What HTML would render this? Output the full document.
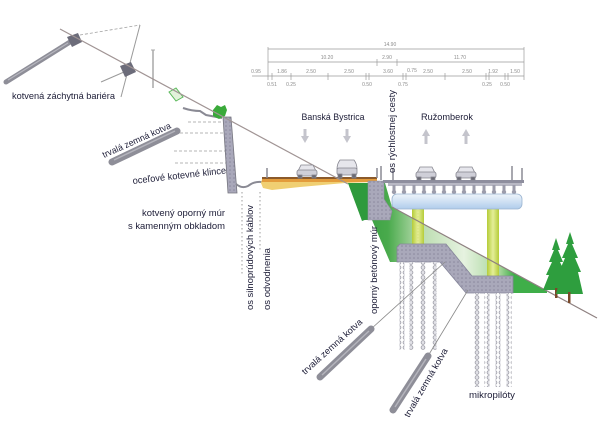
<!DOCTYPE html>
<html><head><meta charset="utf-8">
<style>
html,body{margin:0;padding:0;background:#fff;}
svg{display:block;}
text{font-family:"Liberation Sans",sans-serif;}
</style></head><body>
<svg width="600" height="431" viewBox="0 0 600 431" xmlns="http://www.w3.org/2000/svg">
<defs>
 <pattern id="dots" width="4" height="4" patternUnits="userSpaceOnUse">
   <rect width="4" height="4" fill="#a9a8ba"/>
   <circle cx="2" cy="2" r="0.8" fill="#8a889c"/>
 </pattern>
 <pattern id="chain" width="6" height="5" patternUnits="userSpaceOnUse">
   <rect width="6" height="5" fill="#fff"/>
   <circle cx="3" cy="2.5" r="1.9" fill="#e2e2e8" stroke="#9c9ca6" stroke-width="0.8"/>
 </pattern>
 <linearGradient id="gfill" x1="348" y1="0" x2="548" y2="0" gradientUnits="userSpaceOnUse">
   <stop offset="0" stop-color="#2f9a3a"/>
   <stop offset="0.2" stop-color="#49aa4c"/>
   <stop offset="0.36" stop-color="#b9dcae"/>
   <stop offset="0.58" stop-color="#e6f2e0"/>
   <stop offset="0.76" stop-color="#a6d69a"/>
   <stop offset="0.83" stop-color="#3fae49"/>
   <stop offset="1" stop-color="#3fae49"/>
 </linearGradient>
 <linearGradient id="blue" x1="0" y1="0" x2="0" y2="1">
   <stop offset="0" stop-color="#eef4fb"/><stop offset="1" stop-color="#b0cceb"/>
 </linearGradient>
 <linearGradient id="pier" x1="0" y1="0" x2="1" y2="0">
   <stop offset="0" stop-color="#b5cc38"/><stop offset="0.5" stop-color="#e4ee98"/><stop offset="1" stop-color="#b5cc38"/>
 </linearGradient>
</defs>

<!-- dimension lines -->
<g stroke="#9a9a9a" stroke-width="0.7" fill="none">
  <line x1="268" y1="49" x2="524" y2="49"/>
  <line x1="268" y1="62" x2="524" y2="62"/>
  <line x1="252" y1="76" x2="524" y2="76"/>
  <line x1="268" y1="47" x2="268" y2="80"/>
  <line x1="524" y1="47" x2="524" y2="80"/>
  <line x1="377" y1="59" x2="377" y2="66"/>
  <line x1="397" y1="59" x2="397" y2="66"/>
  <line x1="272" y1="73" x2="272" y2="80"/>
  <line x1="291" y1="73" x2="291" y2="80"/>
  <line x1="328" y1="73" x2="328" y2="80"/>
  <line x1="366" y1="73" x2="366" y2="80"/>
  <line x1="369" y1="73" x2="369" y2="80"/>
  <line x1="403" y1="73" x2="403" y2="80"/>
  <line x1="406" y1="73" x2="406" y2="80"/>
  <line x1="445" y1="73" x2="445" y2="80"/>
  <line x1="486" y1="73" x2="486" y2="80"/>
  <line x1="489" y1="73" x2="489" y2="80"/>
  <line x1="505" y1="73" x2="505" y2="80"/>
  <line x1="508" y1="73" x2="508" y2="80"/>
</g>
<g fill="#8c8c8c" font-size="5" text-anchor="middle">
  <text x="390" y="46">14.90</text>
  <text x="327" y="59">10.20</text>
  <text x="387" y="59">2.90</text>
  <text x="460" y="59">11.70</text>
  <text x="256" y="73">0.95</text>
  <text x="282" y="73">1.86</text>
  <text x="311" y="73">2.50</text>
  <text x="349" y="73">2.50</text>
  <text x="388" y="73">3.60</text>
  <text x="412" y="72">0.75</text>
  <text x="428" y="73">2.50</text>
  <text x="467" y="73">2.50</text>
  <text x="493" y="73">1.92</text>
  <text x="515" y="73">1.50</text>
  <text x="272" y="86">0.51</text>
  <text x="291" y="86">0.25</text>
  <text x="367" y="86">0.50</text>
  <text x="403" y="86">0.75</text>
  <text x="487" y="86">0.25</text>
  <text x="505" y="86">0.50</text>
</g>

<!-- top-left barrier -->
<line x1="6" y1="82" x2="70" y2="42" stroke="#8e8e98" stroke-width="5" stroke-linecap="round"/>
<line x1="8" y1="80" x2="68" y2="43" stroke="#b6b6be" stroke-width="1.2"/>
<polygon points="67,37 78,33 82,42 72,47" fill="#6c6c7a"/>
<line x1="80" y1="35" x2="140" y2="25" stroke="#a0a0a0" stroke-width="0.8" stroke-dasharray="3 2"/>
<line x1="140" y1="25" x2="121" y2="97" stroke="#9a9a9a" stroke-width="1"/>
<line x1="101" y1="82" x2="124" y2="72" stroke="#9a9a9a" stroke-width="1"/>
<polygon points="120,66 131,62 136,72 125,77" fill="#6c6c7a"/>
<line x1="153" y1="50" x2="153" y2="88" stroke="#a8a8a8" stroke-width="1.5"/>
<line x1="151" y1="50" x2="155" y2="50" stroke="#a8a8a8" stroke-width="1"/>
<polygon points="169,92 176,88 183,97 176,101" fill="#e2f2da" stroke="#5ab85a" stroke-width="1"/>
<path d="M183,108 Q192,111 200,111 L206,115 L222,118" stroke="#8a8a94" stroke-width="2" fill="none"/>
<path d="M213,110 L217,105 L221,107 L225,105 L227,110 L225,116 L219,119 L213,116 Z" fill="#3aaa3a"/>

<!-- nails -->
<g stroke="#b4b4b4" stroke-width="1" stroke-dasharray="3 2">
  <line x1="188" y1="122" x2="224" y2="122"/>
  <line x1="180" y1="133" x2="225" y2="133"/>
  <line x1="174" y1="151" x2="226" y2="151"/>
  <line x1="175" y1="163" x2="227" y2="163"/>
</g>

<!-- left anchor -->
<line x1="112" y1="162" x2="177" y2="131" stroke="#8e8e98" stroke-width="7" stroke-linecap="round"/>
<line x1="114" y1="160" x2="175" y2="131" stroke="#b4b4bc" stroke-width="1.5"/>

<!-- wall -->
<polygon points="223,117 231,117 237,193 228,193" fill="url(#dots)" stroke="#75757f" stroke-width="0.8"/>
<path d="M236,184 Q242,189 248,186 Q254,181 262,182" stroke="#8a8a94" stroke-width="2" fill="none"/>

<!-- dotted axes -->
<line x1="242" y1="192" x2="242" y2="275" stroke="#9c9c9c" stroke-width="1" stroke-dasharray="1.5 2.5"/>
<line x1="260" y1="192" x2="260" y2="250" stroke="#9c9c9c" stroke-width="1" stroke-dasharray="1.5 2.5"/>

<!-- green fill -->
<polygon points="348,183 385,183 392,207 547,291 547,293 466,293 440,262 390,262 372,220 362,220" fill="url(#gfill)"/>
<polygon points="348,183 370,183 370,218 362,221" fill="#2e9a3c"/>

<!-- road left -->
<polygon points="262,179 377,179 377,182 345,183 300,187 272,190 263,188 261,183" fill="#f0cf72"/>
<rect x="262" y="179" width="115" height="3" fill="#e39c3c"/>
<rect x="262" y="177" width="115" height="2" fill="#8b5a2b"/>
<line x1="267" y1="168" x2="267" y2="178" stroke="#8a8a94" stroke-width="1.5"/>
<line x1="377" y1="168" x2="377" y2="178" stroke="#8a8a94" stroke-width="1.5"/>

<!-- retaining wall -->
<polygon points="368,181 384,181 384,199 392,211 390,220 368,220" fill="url(#dots)" stroke="#8e8c9e" stroke-width="0.6"/>

<!-- piers -->
<rect x="412" y="208" width="12" height="37" fill="url(#pier)"/>
<rect x="487" y="208" width="12" height="68" fill="url(#pier)"/>
<line x1="418" y1="210" x2="418" y2="245" stroke="#d8e27a" stroke-width="1" stroke-dasharray="1.5 1.5"/>

<!-- deck -->
<rect x="383" y="180" width="141" height="3" fill="#8e8e9e"/>
<rect x="388" y="183" width="134" height="3" fill="#b8b8c4"/>
<g fill="#9c9cab">
  <rect x="392.5" y="185" width="3" height="6"/><circle cx="394" cy="192" r="2.2"/>
  <rect x="402.5" y="185" width="3" height="6"/><circle cx="404" cy="192" r="2.2"/>
  <rect x="412.5" y="185" width="3" height="6"/><circle cx="414" cy="192" r="2.2"/>
  <rect x="422.5" y="185" width="3" height="6"/><circle cx="424" cy="192" r="2.2"/>
  <rect x="432.5" y="185" width="3" height="6"/><circle cx="434" cy="192" r="2.2"/>
  <rect x="442.5" y="185" width="3" height="6"/><circle cx="444" cy="192" r="2.2"/>
  <rect x="452.5" y="185" width="3" height="6"/><circle cx="454" cy="192" r="2.2"/>
  <rect x="462.5" y="185" width="3" height="6"/><circle cx="464" cy="192" r="2.2"/>
  <rect x="472.5" y="185" width="3" height="6"/><circle cx="474" cy="192" r="2.2"/>
  <rect x="482.5" y="185" width="3" height="6"/><circle cx="484" cy="192" r="2.2"/>
  <rect x="492.5" y="185" width="3" height="6"/><circle cx="494" cy="192" r="2.2"/>
  <rect x="502.5" y="185" width="3" height="6"/><circle cx="504" cy="192" r="2.2"/>
  <rect x="512.5" y="185" width="3" height="6"/><circle cx="514" cy="192" r="2.2"/>
</g>
<rect x="392" y="194" width="130" height="15" rx="5" fill="url(#blue)" stroke="#9ab4d0" stroke-width="0.8"/>
<g stroke="#8a8a94" stroke-width="1.5">
  <line x1="381" y1="166" x2="381" y2="180"/>
  <line x1="393" y1="168" x2="393" y2="180"/>
  <line x1="512" y1="166" x2="512" y2="180"/>
  <line x1="522" y1="168" x2="522" y2="180"/>
</g>

<!-- footing -->
<polygon points="397,247 400,244 446,244 472,276 513,276 513,293 466,293 440,262 397,262" fill="url(#dots)" stroke="#85859a" stroke-width="0.8"/>

<!-- micropiles -->
<g fill="url(#chain)">
  <rect x="399.5" y="262" width="5" height="88"/>
  <rect x="409.5" y="262" width="5" height="88"/>
  <rect x="420.5" y="262" width="5" height="88"/>
  <rect x="431.5" y="262" width="5" height="88"/>
  <rect x="474.5" y="293" width="5" height="94"/>
  <rect x="484.5" y="293" width="5" height="94"/>
  <rect x="495.5" y="293" width="5" height="94"/>
  <rect x="506.5" y="293" width="5" height="94"/>
</g>

<!-- ground line -->
<line x1="60" y1="29" x2="348" y2="184" stroke="#a09494" stroke-width="1.2"/>
<line x1="392" y1="207" x2="597" y2="318" stroke="#8e8080" stroke-width="1.2"/>

<!-- bottom anchors -->
<line x1="371" y1="329" x2="445" y2="262" stroke="#8a8a8a" stroke-width="0.8"/>
<line x1="428" y1="356" x2="468" y2="290" stroke="#8a8a8a" stroke-width="0.8"/>
<line x1="320" y1="377" x2="371" y2="329" stroke="#8e8e98" stroke-width="7" stroke-linecap="round"/>
<line x1="322" y1="375" x2="369" y2="331" stroke="#b4b4bc" stroke-width="1.5"/>
<line x1="393" y1="410" x2="428" y2="356" stroke="#8e8e98" stroke-width="7" stroke-linecap="round"/>
<line x1="395" y1="407" x2="426" y2="359" stroke="#b4b4bc" stroke-width="1.5"/>

<!-- trees -->
<polygon points="556,238 552,250 554,250 549,262 552,262 546,275 549,275 543,290 569,290 563,275 566,275 560,262 563,262 558,250 560,250" fill="#2e9e3e"/>
<rect x="555" y="288" width="2.5" height="10" fill="#7a4a2a"/>
<polygon points="570,232 566,244 568,244 562,258 565,258 559,272 562,272 556,294 583,294 578,272 581,272 575,258 578,258 572,244 574,244" fill="#2e9e3e"/>
<rect x="568" y="292" width="2.5" height="11" fill="#7a4a2a"/>

<!-- cars -->
<g stroke="#85858f" stroke-width="0.8">
  <g transform="translate(297,165)">
    <path d="M4,0 L16,0 L19,6 L1,6 Z" fill="#e6e6ec"/>
    <rect x="0" y="5" width="20" height="6" rx="2" fill="#cfcfd8"/>
    <rect x="1" y="10" width="4" height="3" fill="#6a6a74"/>
    <rect x="15" y="10" width="4" height="3" fill="#6a6a74"/>
  </g>
  <g transform="translate(337,160)">
    <path d="M3,0 L17,0 Q20,4 20,9 L0,9 Q0,4 3,0 Z" fill="#e6e6ec"/>
    <rect x="0" y="8" width="20" height="7" rx="2" fill="#cfcfd8"/>
    <rect x="1" y="14" width="4" height="4" fill="#6a6a74"/>
    <rect x="15" y="14" width="4" height="4" fill="#6a6a74"/>
  </g>
  <g transform="translate(416,167)">
    <path d="M4,0 L16,0 L19,6 L1,6 Z" fill="#e6e6ec"/>
    <rect x="0" y="5" width="20" height="6" rx="2" fill="#cfcfd8"/>
    <rect x="1" y="10" width="4" height="3" fill="#6a6a74"/>
    <rect x="15" y="10" width="4" height="3" fill="#6a6a74"/>
  </g>
  <g transform="translate(456,167)">
    <path d="M4,0 L16,0 L19,6 L1,6 Z" fill="#e6e6ec"/>
    <rect x="0" y="5" width="20" height="6" rx="2" fill="#cfcfd8"/>
    <rect x="1" y="10" width="4" height="3" fill="#6a6a74"/>
    <rect x="15" y="10" width="4" height="3" fill="#6a6a74"/>
  </g>
</g>

<!-- arrows -->
<g fill="#c4c4cc">
  <rect x="303.5" y="129" width="3" height="8"/><polygon points="301,136 309,136 305,143"/>
  <rect x="345.5" y="129" width="3" height="8"/><polygon points="343,136 351,136 347,143"/>
  <polygon points="422,136 430,136 426,129"/><rect x="424.5" y="135" width="3" height="9"/>
  <polygon points="462,136 470,136 466,129"/><rect x="464.5" y="135" width="3" height="9"/>
</g>

<!-- labels -->
<g fill="#20203a" font-size="9.5">
  <text x="12" y="99" textLength="103" lengthAdjust="spacingAndGlyphs">kotvená záchytná bariéra</text>
  <text transform="translate(104,158) rotate(-24)" textLength="74" lengthAdjust="spacingAndGlyphs" font-size="9">trvalá zemná kotva</text>
  <text transform="translate(133,184) rotate(-6.5)" textLength="94" lengthAdjust="spacingAndGlyphs">oceľové kotevné klince</text>
  <text x="225" y="216" text-anchor="end" textLength="83" lengthAdjust="spacingAndGlyphs">kotvený oporný múr</text>
  <text x="225" y="229" text-anchor="end" textLength="97" lengthAdjust="spacingAndGlyphs">s kamenným obkladom</text>
  <text x="333" y="120" text-anchor="middle" textLength="63" lengthAdjust="spacingAndGlyphs">Banská Bystrica</text>
  <text x="447" y="120" text-anchor="middle" textLength="52" lengthAdjust="spacingAndGlyphs">Ružomberok</text>
  <text x="469" y="398" textLength="46" lengthAdjust="spacingAndGlyphs">mikropilóty</text>
</g>
<g fill="#20203a" font-size="9">
  <text transform="translate(253,310) rotate(-90)" textLength="105" lengthAdjust="spacingAndGlyphs">os silnoprúdových káblov</text>
  <text transform="translate(270,310) rotate(-90)" textLength="62" lengthAdjust="spacingAndGlyphs">os odvodnenia</text>
  <text transform="translate(377,314) rotate(-90)" textLength="88" lengthAdjust="spacingAndGlyphs">oporný betónový múr</text>
  <text transform="translate(395,173) rotate(-90)" textLength="83" lengthAdjust="spacingAndGlyphs">os rýchlostnej cesty</text>
  <text transform="translate(305,375) rotate(-42)" textLength="78" lengthAdjust="spacingAndGlyphs">trvalá zemná kotva</text>
  <text transform="translate(409,418) rotate(-60)" textLength="78" lengthAdjust="spacingAndGlyphs">trvalá zemná kotva</text>
</g>
</svg>
</body></html>
